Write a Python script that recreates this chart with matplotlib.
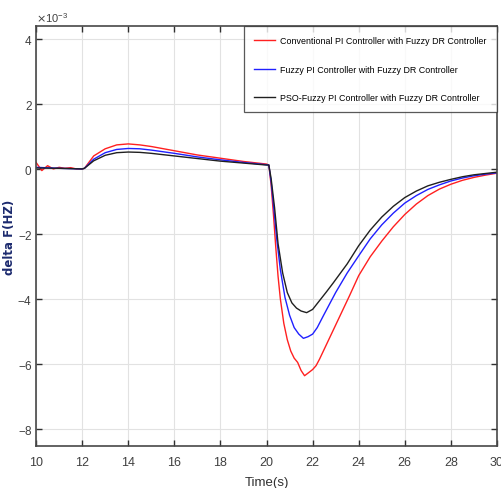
import matplotlib
matplotlib.use("Agg")
import matplotlib.pyplot as plt
from matplotlib import font_manager
import numpy as np

names = {f.name for f in font_manager.fontManager.ttflist}
narrow = 'Liberation Sans Narrow' in names
if narrow:
    plt.rcParams['font.family'] = ['Liberation Sans Narrow', 'DejaVu Sans']
    tick_fs, leg_fs, xl_fs = 10.5, 7.5, 11
else:
    plt.rcParams['font.family'] = ['Liberation Sans', 'DejaVu Sans']
    tick_fs, leg_fs, xl_fs = 9, 6.4, 9.5
plt.rcParams['axes.unicode_minus'] = False

# delta F values, in units of 1e-3 Hz
t_conv = [10, 10.25, 10.5, 10.75, 11, 11.25, 11.5, 11.75, 12, 12.1, 12.5, 13, 13.5, 14, 14.5,
          15, 16, 17, 18, 19, 20, 20.1, 20.2, 20.3, 20.4, 20.5, 20.6, 20.75, 20.9, 21.05, 21.2,
          21.35, 21.5, 21.65, 21.8, 22.0, 22.15, 22.3, 22.5, 23.0, 23.6, 24.0, 24.5, 25.0, 25.5,
          26.0, 26.5, 27.0, 27.5, 28.0, 28.5, 29.0, 29.5, 30.0]
df_conv = [0.2, -0.05, 0.1, 0.0, 0.05, 0.02, 0.04, 0.0, 0.0, 0.02, 0.4, 0.62, 0.74, 0.77, 0.74,
           0.69, 0.56, 0.43, 0.33, 0.23, 0.15, 0.12, -0.5, -1.4, -2.4, -3.3, -4.0, -4.75, -5.25,
           -5.6, -5.82, -5.95, -6.2, -6.36, -6.28, -6.17, -6.05, -5.85, -5.55, -4.8, -3.9, -3.28,
           -2.7, -2.22, -1.78, -1.4, -1.08, -0.82, -0.62, -0.47, -0.35, -0.26, -0.19, -0.13]

t_fuzzy = [10, 11, 12, 12.1, 12.5, 13, 13.5, 14, 14.5, 15, 16, 17, 18, 19, 20, 20.1, 20.2, 20.3,
           20.45, 20.6, 20.8, 21.0, 21.2, 21.4, 21.6, 21.8, 22.0, 22.2, 22.47, 23.0, 23.5, 24.0,
           24.5, 25.0, 25.5, 26.0, 26.5, 27.0, 27.5, 28.0, 28.5, 29.0, 29.5, 30.0]
df_fuzzy = [0.05, 0.02, 0.0, 0.02, 0.3, 0.5, 0.6, 0.63, 0.62, 0.58, 0.48, 0.37, 0.28, 0.2, 0.13,
            0.12, -0.4, -1.1, -2.2, -3.1, -3.95, -4.5, -4.88, -5.08, -5.21, -5.16, -5.08, -4.88,
            -4.51, -3.8, -3.2, -2.67, -2.15, -1.72, -1.36, -1.05, -0.82, -0.63, -0.49, -0.37,
            -0.28, -0.21, -0.16, -0.12]

t_pso = [10, 11, 12, 12.1, 12.5, 13, 13.5, 14, 14.5, 15, 16, 17, 18, 19, 20, 20.1, 20.2, 20.35,
         20.5, 20.7, 20.9, 21.1, 21.3, 21.5, 21.74, 22.0, 22.3, 22.6, 22.9, 23.5, 24.0, 24.5,
         25.0, 25.5, 26.0, 26.5, 27.0, 27.5, 28.0, 28.5, 29.0, 29.5, 30.0]
df_pso = [0.03, 0.02, 0.0, 0.02, 0.25, 0.42, 0.5, 0.52, 0.51, 0.48, 0.4, 0.32, 0.24, 0.18, 0.12,
          0.12, -0.3, -1.2, -2.3, -3.2, -3.8, -4.12, -4.28, -4.37, -4.42, -4.32, -4.05, -3.78,
          -3.5, -2.92, -2.36, -1.88, -1.48, -1.15, -0.88, -0.68, -0.52, -0.41, -0.32, -0.24,
          -0.18, -0.14, -0.1]

labels = ['Conventional PI Controller with Fuzzy DR Controller',
          'Fuzzy PI Controller with Fuzzy DR Controller',
          'PSO-Fuzzy PI Controller with Fuzzy DR Controller']

fig = plt.figure(figsize=(5.01, 4.89), dpi=100)
ax = fig.add_axes([0.072, 0.086, 0.92, 0.859])

ax.plot(t_conv, np.array(df_conv) * 1e-3, color='#ff2020', lw=1.0, label=labels[0])
ax.plot(t_fuzzy, np.array(df_fuzzy) * 1e-3, color='#2020ff', lw=1.0, label=labels[1])
ax.plot(t_pso, np.array(df_pso) * 1e-3, color='#202020', lw=1.0, label=labels[2])

ax.set_xlim(10, 30)
ax.set_ylim(-8.52e-3, 4.4e-3)
ax.set_xticks(np.arange(10, 31, 2))
ax.set_yticks(np.arange(-8, 5, 2) * 1e-3)
ax.ticklabel_format(axis='y', style='sci', scilimits=(0, 0), useMathText=True)
ax.yaxis.get_offset_text().set_fontsize(tick_fs - 1)
ax.yaxis.get_offset_text().set_color('#505050')

ax.grid(True, color='#e2e2e2', lw=0.8)
ax.set_axisbelow(True)
ax.tick_params(direction='in', top=True, right=True, length=4, width=1,
               labelsize=tick_fs, colors='#303030', labelcolor='#404040')
ax.tick_params(axis='x', pad=7)
ax.tick_params(axis='y', pad=2.5, labelsize=tick_fs - 0.5)
for s in ax.spines.values():
    s.set_color('#484848')
    s.set_linewidth(1.2)

ax.set_xlabel('Time(s)', fontsize=xl_fs, color='#303030', labelpad=6)
ax.set_ylabel('delta F(HZ)', fontsize=8.5, fontweight='bold', color='#1c2a6e',
              family=['DejaVu Sans'])
ax.yaxis.set_label_coords(-0.043, 0.5)

leg = ax.legend(loc='upper right', fontsize=leg_fs, handlelength=2.3, handletextpad=0.65,
                borderaxespad=0, labelspacing=2.2, borderpad=1.15, handleheight=0.7,
                fancybox=False)
leg.get_frame().set_edgecolor('#303030')
leg.get_frame().set_linewidth(0.9)

plt.savefig('out.png', dpi=100)
